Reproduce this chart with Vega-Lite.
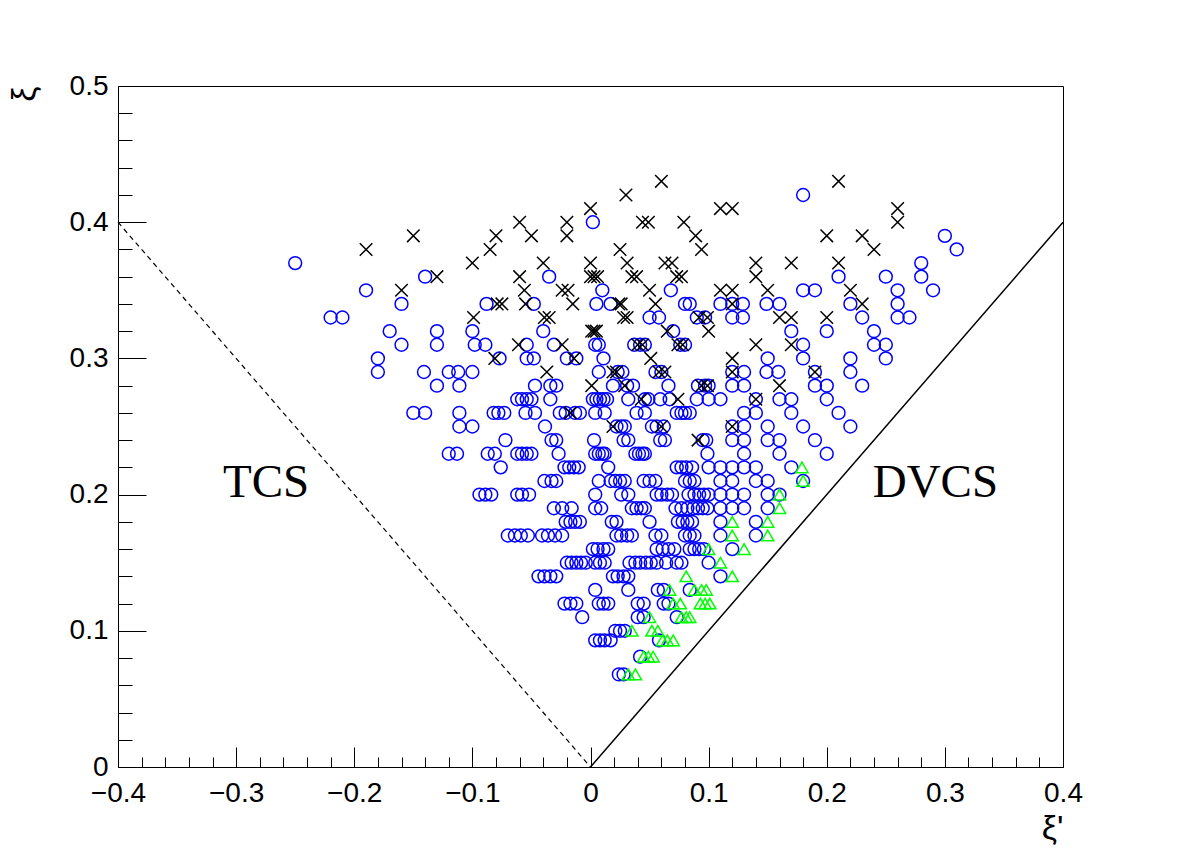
{
  "$schema": "https://vega.github.io/schema/vega-lite/v6.json",
  "width": 945,
  "height": 681,
  "autosize": {"type": "none"},
  "padding": {"left": 118, "top": 86, "right": 119, "bottom": 86},
  "background": "white",
  "config": {"view": {"stroke": "black", "strokeWidth": 1}, "font": "Liberation Sans"},
  "datasets": {
    "pts": [
      {"x":0.18,"y":0.42,"s":"c"},
      {"x":0.002,"y":0.40,"s":"c"},
      {"x":0.30,"y":0.39,"s":"c"},
      {"x":0.31,"y":0.38,"s":"c"},
      {"x":-0.25,"y":0.37,"s":"c"},{"x":0.28,"y":0.37,"s":"c"},
      {"x":-0.14,"y":0.36,"s":"c"},{"x":-0.035,"y":0.36,"s":"c"},{"x":0.21,"y":0.36,"s":"c"},{"x":0.25,"y":0.36,"s":"c"},{"x":0.28,"y":0.36,"s":"c"},
      {"x":-0.19,"y":0.35,"s":"c"},{"x":0.01,"y":0.35,"s":"c"},{"x":0.068,"y":0.35,"s":"c"},{"x":0.18,"y":0.35,"s":"c"},{"x":0.19,"y":0.35,"s":"c"},{"x":0.26,"y":0.35,"s":"c"},{"x":0.29,"y":0.35,"s":"c"},
      {"x":-0.16,"y":0.34,"s":"c"},{"x":-0.088,"y":0.34,"s":"c"},{"x":-0.048,"y":0.34,"s":"c"},{"x":0.005,"y":0.34,"s":"c"},{"x":0.017,"y":0.34,"s":"c"},{"x":0.08,"y":0.34,"s":"c"},{"x":0.084,"y":0.34,"s":"c"},{"x":0.11,"y":0.34,"s":"c"},{"x":0.12,"y":0.34,"s":"c"},{"x":0.129,"y":0.34,"s":"c"},{"x":0.149,"y":0.34,"s":"c"},{"x":0.16,"y":0.34,"s":"c"},{"x":0.22,"y":0.34,"s":"c"},{"x":0.26,"y":0.34,"s":"c"},
      {"x":-0.22,"y":0.33,"s":"c"},{"x":-0.21,"y":0.33,"s":"c"},{"x":0.05,"y":0.33,"s":"c"},{"x":0.058,"y":0.33,"s":"c"},{"x":0.09,"y":0.33,"s":"c"},{"x":0.097,"y":0.33,"s":"c"},{"x":0.12,"y":0.33,"s":"c"},{"x":0.129,"y":0.33,"s":"c"},{"x":0.23,"y":0.33,"s":"c"},{"x":0.26,"y":0.33,"s":"c"},{"x":0.27,"y":0.33,"s":"c"},
      {"x":-0.17,"y":0.32,"s":"c"},{"x":-0.13,"y":0.32,"s":"c"},{"x":-0.10,"y":0.32,"s":"c"},{"x":-0.04,"y":0.32,"s":"c"},{"x":0.07,"y":0.32,"s":"c"},{"x":0.17,"y":0.32,"s":"c"},{"x":0.20,"y":0.32,"s":"c"},{"x":0.24,"y":0.32,"s":"c"},
      {"x":-0.16,"y":0.31,"s":"c"},{"x":-0.13,"y":0.31,"s":"c"},{"x":-0.098,"y":0.31,"s":"c"},{"x":-0.089,"y":0.31,"s":"c"},{"x":-0.054,"y":0.31,"s":"c"},{"x":-0.031,"y":0.31,"s":"c"},{"x":0.004,"y":0.31,"s":"c"},{"x":0.007,"y":0.31,"s":"c"},{"x":0.037,"y":0.31,"s":"c"},{"x":0.042,"y":0.31,"s":"c"},{"x":0.046,"y":0.31,"s":"c"},{"x":0.076,"y":0.31,"s":"c"},{"x":0.08,"y":0.31,"s":"c"},{"x":0.18,"y":0.31,"s":"c"},{"x":0.24,"y":0.31,"s":"c"},{"x":0.25,"y":0.31,"s":"c"},
      {"x":-0.18,"y":0.30,"s":"c"},{"x":-0.077,"y":0.30,"s":"c"},{"x":-0.054,"y":0.30,"s":"c"},{"x":-0.048,"y":0.30,"s":"c"},{"x":-0.02,"y":0.30,"s":"c"},{"x":-0.012,"y":0.30,"s":"c"},{"x":0.011,"y":0.30,"s":"c"},{"x":0.15,"y":0.30,"s":"c"},{"x":0.18,"y":0.30,"s":"c"},{"x":0.22,"y":0.30,"s":"c"},{"x":0.25,"y":0.30,"s":"c"},
      {"x":-0.18,"y":0.29,"s":"c"},{"x":-0.141,"y":0.29,"s":"c"},{"x":-0.12,"y":0.29,"s":"c"},{"x":-0.112,"y":0.29,"s":"c"},{"x":-0.10,"y":0.29,"s":"c"},{"x":0.007,"y":0.29,"s":"c"},{"x":0.023,"y":0.29,"s":"c"},{"x":0.027,"y":0.29,"s":"c"},{"x":0.055,"y":0.29,"s":"c"},{"x":0.06,"y":0.29,"s":"c"},{"x":0.12,"y":0.29,"s":"c"},{"x":0.13,"y":0.29,"s":"c"},{"x":0.149,"y":0.29,"s":"c"},{"x":0.159,"y":0.29,"s":"c"},{"x":0.19,"y":0.29,"s":"c"},{"x":0.22,"y":0.29,"s":"c"},
      {"x":-0.13,"y":0.28,"s":"c"},{"x":-0.111,"y":0.28,"s":"c"},{"x":-0.047,"y":0.28,"s":"c"},{"x":-0.034,"y":0.28,"s":"c"},{"x":-0.029,"y":0.28,"s":"c"},{"x":0.019,"y":0.28,"s":"c"},{"x":0.031,"y":0.28,"s":"c"},{"x":0.036,"y":0.28,"s":"c"},{"x":0.066,"y":0.28,"s":"c"},{"x":0.091,"y":0.28,"s":"c"},{"x":0.097,"y":0.28,"s":"c"},{"x":0.10,"y":0.28,"s":"c"},{"x":0.12,"y":0.28,"s":"c"},{"x":0.13,"y":0.28,"s":"c"},{"x":0.19,"y":0.28,"s":"c"},{"x":0.20,"y":0.28,"s":"c"},{"x":0.23,"y":0.28,"s":"c"},
      {"x":-0.062,"y":0.27,"s":"c"},{"x":-0.058,"y":0.27,"s":"c"},{"x":-0.054,"y":0.27,"s":"c"},{"x":-0.05,"y":0.27,"s":"c"},{"x":-0.034,"y":0.27,"s":"c"},{"x":0.002,"y":0.27,"s":"c"},{"x":0.005,"y":0.27,"s":"c"},{"x":0.008,"y":0.27,"s":"c"},{"x":0.011,"y":0.27,"s":"c"},{"x":0.014,"y":0.27,"s":"c"},{"x":0.032,"y":0.27,"s":"c"},{"x":0.046,"y":0.27,"s":"c"},{"x":0.049,"y":0.27,"s":"c"},{"x":0.059,"y":0.27,"s":"c"},{"x":0.067,"y":0.27,"s":"c"},{"x":0.09,"y":0.27,"s":"c"},{"x":0.10,"y":0.27,"s":"c"},{"x":0.11,"y":0.27,"s":"c"},{"x":0.14,"y":0.27,"s":"c"},{"x":0.16,"y":0.27,"s":"c"},{"x":0.17,"y":0.27,"s":"c"},{"x":0.20,"y":0.27,"s":"c"},
      {"x":-0.15,"y":0.26,"s":"c"},{"x":-0.14,"y":0.26,"s":"c"},{"x":-0.111,"y":0.26,"s":"c"},{"x":-0.082,"y":0.26,"s":"c"},{"x":-0.078,"y":0.26,"s":"c"},{"x":-0.073,"y":0.26,"s":"c"},{"x":-0.055,"y":0.26,"s":"c"},{"x":-0.047,"y":0.26,"s":"c"},{"x":-0.026,"y":0.26,"s":"c"},{"x":-0.021,"y":0.26,"s":"c"},{"x":-0.013,"y":0.26,"s":"c"},{"x":-0.009,"y":0.26,"s":"c"},{"x":0.004,"y":0.26,"s":"c"},{"x":0.012,"y":0.26,"s":"c"},{"x":0.039,"y":0.26,"s":"c"},{"x":0.046,"y":0.26,"s":"c"},{"x":0.073,"y":0.26,"s":"c"},{"x":0.077,"y":0.26,"s":"c"},{"x":0.08,"y":0.26,"s":"c"},{"x":0.084,"y":0.26,"s":"c"},{"x":0.13,"y":0.26,"s":"c"},{"x":0.14,"y":0.26,"s":"c"},{"x":0.17,"y":0.26,"s":"c"},{"x":0.21,"y":0.26,"s":"c"},
      {"x":-0.111,"y":0.25,"s":"c"},{"x":-0.10,"y":0.25,"s":"c"},{"x":-0.0385,"y":0.25,"s":"c"},{"x":0.022,"y":0.25,"s":"c"},{"x":0.026,"y":0.25,"s":"c"},{"x":0.029,"y":0.25,"s":"c"},{"x":0.052,"y":0.25,"s":"c"},{"x":0.056,"y":0.25,"s":"c"},{"x":0.062,"y":0.25,"s":"c"},{"x":0.12,"y":0.25,"s":"c"},{"x":0.13,"y":0.25,"s":"c"},{"x":0.15,"y":0.25,"s":"c"},{"x":0.18,"y":0.25,"s":"c"},{"x":0.22,"y":0.25,"s":"c"},
      {"x":-0.072,"y":0.24,"s":"c"},{"x":-0.033,"y":0.24,"s":"c"},{"x":-0.029,"y":0.24,"s":"c"},{"x":0.003,"y":0.24,"s":"c"},{"x":0.028,"y":0.24,"s":"c"},{"x":0.032,"y":0.24,"s":"c"},{"x":0.059,"y":0.24,"s":"c"},{"x":0.063,"y":0.24,"s":"c"},{"x":0.095,"y":0.24,"s":"c"},{"x":0.098,"y":0.24,"s":"c"},{"x":0.12,"y":0.24,"s":"c"},{"x":0.13,"y":0.24,"s":"c"},{"x":0.15,"y":0.24,"s":"c"},{"x":0.16,"y":0.24,"s":"c"},{"x":0.19,"y":0.24,"s":"c"},
      {"x":-0.12,"y":0.23,"s":"c"},{"x":-0.113,"y":0.23,"s":"c"},{"x":-0.087,"y":0.23,"s":"c"},{"x":-0.081,"y":0.23,"s":"c"},{"x":-0.062,"y":0.23,"s":"c"},{"x":-0.058,"y":0.23,"s":"c"},{"x":-0.054,"y":0.23,"s":"c"},{"x":-0.05,"y":0.23,"s":"c"},{"x":-0.027,"y":0.23,"s":"c"},{"x":0.004,"y":0.23,"s":"c"},{"x":0.007,"y":0.23,"s":"c"},{"x":0.01,"y":0.23,"s":"c"},{"x":0.012,"y":0.23,"s":"c"},{"x":0.038,"y":0.23,"s":"c"},{"x":0.041,"y":0.23,"s":"c"},{"x":0.044,"y":0.23,"s":"c"},{"x":0.046,"y":0.23,"s":"c"},{"x":0.099,"y":0.23,"s":"c"},{"x":0.13,"y":0.23,"s":"c"},{"x":0.16,"y":0.23,"s":"c"},{"x":0.20,"y":0.23,"s":"c"},
      {"x":-0.076,"y":0.22,"s":"c"},{"x":-0.022,"y":0.22,"s":"c"},{"x":-0.018,"y":0.22,"s":"c"},{"x":-0.014,"y":0.22,"s":"c"},{"x":-0.01,"y":0.22,"s":"c"},{"x":0.015,"y":0.22,"s":"c"},{"x":0.073,"y":0.22,"s":"c"},{"x":0.077,"y":0.22,"s":"c"},{"x":0.081,"y":0.22,"s":"c"},{"x":0.086,"y":0.22,"s":"c"},{"x":0.10,"y":0.22,"s":"c"},{"x":0.11,"y":0.22,"s":"c"},{"x":0.12,"y":0.22,"s":"c"},{"x":0.13,"y":0.22,"s":"c"},{"x":0.14,"y":0.22,"s":"c"},{"x":0.17,"y":0.22,"s":"c"},
      {"x":-0.039,"y":0.21,"s":"c"},{"x":-0.033,"y":0.21,"s":"c"},{"x":-0.029,"y":0.21,"s":"c"},{"x":0.007,"y":0.21,"s":"c"},{"x":0.017,"y":0.21,"s":"c"},{"x":0.021,"y":0.21,"s":"c"},{"x":0.025,"y":0.21,"s":"c"},{"x":0.029,"y":0.21,"s":"c"},{"x":0.045,"y":0.21,"s":"c"},{"x":0.05,"y":0.21,"s":"c"},{"x":0.055,"y":0.21,"s":"c"},{"x":0.08,"y":0.21,"s":"c"},{"x":0.084,"y":0.21,"s":"c"},{"x":0.088,"y":0.21,"s":"c"},{"x":0.11,"y":0.21,"s":"c"},{"x":0.12,"y":0.21,"s":"c"},{"x":0.14,"y":0.21,"s":"c"},{"x":0.15,"y":0.21,"s":"c"},{"x":0.18,"y":0.21,"s":"c"},
      {"x":-0.094,"y":0.20,"s":"c"},{"x":-0.089,"y":0.20,"s":"c"},{"x":-0.084,"y":0.20,"s":"c"},{"x":-0.062,"y":0.20,"s":"c"},{"x":-0.058,"y":0.20,"s":"c"},{"x":-0.052,"y":0.20,"s":"c"},{"x":0.004,"y":0.20,"s":"c"},{"x":0.026,"y":0.20,"s":"c"},{"x":0.032,"y":0.20,"s":"c"},{"x":0.056,"y":0.20,"s":"c"},{"x":0.06,"y":0.20,"s":"c"},{"x":0.065,"y":0.20,"s":"c"},{"x":0.069,"y":0.20,"s":"c"},{"x":0.083,"y":0.20,"s":"c"},{"x":0.088,"y":0.20,"s":"c"},{"x":0.092,"y":0.20,"s":"c"},{"x":0.096,"y":0.20,"s":"c"},{"x":0.10,"y":0.20,"s":"c"},{"x":0.11,"y":0.20,"s":"c"},{"x":0.12,"y":0.20,"s":"c"},{"x":0.13,"y":0.20,"s":"c"},{"x":0.15,"y":0.20,"s":"c"},{"x":0.16,"y":0.20,"s":"c"},
      {"x":-0.031,"y":0.19,"s":"c"},{"x":-0.024,"y":0.19,"s":"c"},{"x":-0.016,"y":0.19,"s":"c"},{"x":0.004,"y":0.19,"s":"c"},{"x":0.009,"y":0.19,"s":"c"},{"x":0.035,"y":0.19,"s":"c"},{"x":0.039,"y":0.19,"s":"c"},{"x":0.043,"y":0.19,"s":"c"},{"x":0.046,"y":0.19,"s":"c"},{"x":0.072,"y":0.19,"s":"c"},{"x":0.077,"y":0.19,"s":"c"},{"x":0.082,"y":0.19,"s":"c"},{"x":0.087,"y":0.19,"s":"c"},{"x":0.091,"y":0.19,"s":"c"},{"x":0.095,"y":0.19,"s":"c"},{"x":0.099,"y":0.19,"s":"c"},{"x":0.11,"y":0.19,"s":"c"},{"x":0.12,"y":0.19,"s":"c"},{"x":0.13,"y":0.19,"s":"c"},{"x":0.15,"y":0.19,"s":"c"},
      {"x":-0.021,"y":0.18,"s":"c"},{"x":-0.017,"y":0.18,"s":"c"},{"x":-0.013,"y":0.18,"s":"c"},{"x":-0.009,"y":0.18,"s":"c"},{"x":0.018,"y":0.18,"s":"c"},{"x":0.022,"y":0.18,"s":"c"},{"x":0.05,"y":0.18,"s":"c"},{"x":0.074,"y":0.18,"s":"c"},{"x":0.078,"y":0.18,"s":"c"},{"x":0.082,"y":0.18,"s":"c"},{"x":0.086,"y":0.18,"s":"c"},{"x":0.11,"y":0.18,"s":"c"},{"x":0.14,"y":0.18,"s":"c"},
      {"x":-0.07,"y":0.17,"s":"c"},{"x":-0.064,"y":0.17,"s":"c"},{"x":-0.059,"y":0.17,"s":"c"},{"x":-0.053,"y":0.17,"s":"c"},{"x":-0.041,"y":0.17,"s":"c"},{"x":-0.036,"y":0.17,"s":"c"},{"x":-0.03,"y":0.17,"s":"c"},{"x":-0.024,"y":0.17,"s":"c"},{"x":0.022,"y":0.17,"s":"c"},{"x":0.026,"y":0.17,"s":"c"},{"x":0.031,"y":0.17,"s":"c"},{"x":0.035,"y":0.17,"s":"c"},{"x":0.055,"y":0.17,"s":"c"},{"x":0.06,"y":0.17,"s":"c"},{"x":0.08,"y":0.17,"s":"c"},{"x":0.084,"y":0.17,"s":"c"},{"x":0.088,"y":0.17,"s":"c"},{"x":0.11,"y":0.17,"s":"c"},{"x":0.14,"y":0.17,"s":"c"},
      {"x":0.002,"y":0.16,"s":"c"},{"x":0.006,"y":0.16,"s":"c"},{"x":0.011,"y":0.16,"s":"c"},{"x":0.015,"y":0.16,"s":"c"},{"x":0.056,"y":0.16,"s":"c"},{"x":0.061,"y":0.16,"s":"c"},{"x":0.066,"y":0.16,"s":"c"},{"x":0.071,"y":0.16,"s":"c"},{"x":0.084,"y":0.16,"s":"c"},{"x":0.088,"y":0.16,"s":"c"},{"x":0.092,"y":0.16,"s":"c"},{"x":0.096,"y":0.16,"s":"c"},{"x":0.12,"y":0.16,"s":"c"},
      {"x":-0.02,"y":0.15,"s":"c"},{"x":-0.016,"y":0.15,"s":"c"},{"x":-0.012,"y":0.15,"s":"c"},{"x":-0.008,"y":0.15,"s":"c"},{"x":-0.004,"y":0.15,"s":"c"},{"x":0.004,"y":0.15,"s":"c"},{"x":0.008,"y":0.15,"s":"c"},{"x":0.012,"y":0.15,"s":"c"},{"x":0.033,"y":0.15,"s":"c"},{"x":0.038,"y":0.15,"s":"c"},{"x":0.042,"y":0.15,"s":"c"},{"x":0.047,"y":0.15,"s":"c"},{"x":0.051,"y":0.15,"s":"c"},{"x":0.056,"y":0.15,"s":"c"},{"x":0.064,"y":0.15,"s":"c"},{"x":0.073,"y":0.15,"s":"c"},{"x":0.077,"y":0.15,"s":"c"},{"x":0.10,"y":0.15,"s":"c"},
      {"x":-0.044,"y":0.14,"s":"c"},{"x":-0.039,"y":0.14,"s":"c"},{"x":-0.034,"y":0.14,"s":"c"},{"x":-0.029,"y":0.14,"s":"c"},{"x":0.019,"y":0.14,"s":"c"},{"x":0.023,"y":0.14,"s":"c"},{"x":0.028,"y":0.14,"s":"c"},{"x":0.032,"y":0.14,"s":"c"},{"x":0.11,"y":0.14,"s":"c"},
      {"x":0.004,"y":0.13,"s":"c"},{"x":0.032,"y":0.13,"s":"c"},{"x":0.057,"y":0.13,"s":"c"},{"x":0.062,"y":0.13,"s":"c"},{"x":0.084,"y":0.13,"s":"c"},
      {"x":-0.022,"y":0.12,"s":"c"},{"x":-0.017,"y":0.12,"s":"c"},{"x":-0.012,"y":0.12,"s":"c"},{"x":0.007,"y":0.12,"s":"c"},{"x":0.011,"y":0.12,"s":"c"},{"x":0.015,"y":0.12,"s":"c"},{"x":0.04,"y":0.12,"s":"c"},{"x":0.045,"y":0.12,"s":"c"},{"x":0.062,"y":0.12,"s":"c"},{"x":0.066,"y":0.12,"s":"c"},
      {"x":-0.007,"y":0.11,"s":"c"},{"x":0.04,"y":0.11,"s":"c"},{"x":0.045,"y":0.11,"s":"c"},{"x":0.073,"y":0.11,"s":"c"},
      {"x":0.021,"y":0.10,"s":"c"},{"x":0.025,"y":0.10,"s":"c"},{"x":0.029,"y":0.10,"s":"c"},
      {"x":0.004,"y":0.093,"s":"c"},{"x":0.008,"y":0.093,"s":"c"},{"x":0.012,"y":0.093,"s":"c"},{"x":0.017,"y":0.093,"s":"c"},{"x":0.058,"y":0.093,"s":"c"},
      {"x":0.042,"y":0.081,"s":"c"},
      {"x":0.024,"y":0.068,"s":"c"},{"x":0.028,"y":0.068,"s":"c"},

      {"x":0.06,"y":0.43,"s":"x"},{"x":0.21,"y":0.43,"s":"x"},
      {"x":0.03,"y":0.42,"s":"x"},
      {"x":0.0,"y":0.41,"s":"x"},{"x":0.11,"y":0.41,"s":"x"},{"x":0.12,"y":0.41,"s":"x"},{"x":0.26,"y":0.41,"s":"x"},
      {"x":-0.06,"y":0.40,"s":"x"},{"x":-0.02,"y":0.40,"s":"x"},{"x":0.044,"y":0.40,"s":"x"},{"x":0.049,"y":0.40,"s":"x"},{"x":0.079,"y":0.40,"s":"x"},{"x":0.26,"y":0.40,"s":"x"},
      {"x":-0.15,"y":0.39,"s":"x"},{"x":-0.08,"y":0.39,"s":"x"},{"x":-0.05,"y":0.39,"s":"x"},{"x":-0.02,"y":0.39,"s":"x"},{"x":0.089,"y":0.39,"s":"x"},{"x":0.20,"y":0.39,"s":"x"},{"x":0.23,"y":0.39,"s":"x"},
      {"x":-0.19,"y":0.38,"s":"x"},{"x":-0.085,"y":0.38,"s":"x"},{"x":0.025,"y":0.38,"s":"x"},{"x":0.094,"y":0.38,"s":"x"},{"x":0.24,"y":0.38,"s":"x"},
      {"x":-0.10,"y":0.37,"s":"x"},{"x":-0.04,"y":0.37,"s":"x"},{"x":0.0,"y":0.37,"s":"x"},{"x":0.031,"y":0.37,"s":"x"},{"x":0.063,"y":0.37,"s":"x"},{"x":0.069,"y":0.37,"s":"x"},{"x":0.14,"y":0.37,"s":"x"},{"x":0.17,"y":0.37,"s":"x"},{"x":0.21,"y":0.37,"s":"x"},
      {"x":-0.13,"y":0.36,"s":"x"},{"x":-0.06,"y":0.36,"s":"x"},{"x":0.0,"y":0.36,"s":"x"},{"x":0.003,"y":0.36,"s":"x"},{"x":0.006,"y":0.36,"s":"x"},{"x":0.035,"y":0.36,"s":"x"},{"x":0.039,"y":0.36,"s":"x"},{"x":0.073,"y":0.36,"s":"x"},{"x":0.077,"y":0.36,"s":"x"},{"x":0.14,"y":0.36,"s":"x"},
      {"x":-0.16,"y":0.35,"s":"x"},{"x":-0.056,"y":0.35,"s":"x"},{"x":-0.024,"y":0.35,"s":"x"},{"x":-0.019,"y":0.35,"s":"x"},{"x":0.05,"y":0.35,"s":"x"},{"x":0.11,"y":0.35,"s":"x"},{"x":0.12,"y":0.35,"s":"x"},{"x":0.15,"y":0.35,"s":"x"},{"x":0.22,"y":0.35,"s":"x"},
      {"x":-0.079,"y":0.34,"s":"x"},{"x":-0.075,"y":0.34,"s":"x"},{"x":-0.055,"y":0.34,"s":"x"},{"x":-0.015,"y":0.34,"s":"x"},{"x":0.024,"y":0.34,"s":"x"},{"x":0.026,"y":0.34,"s":"x"},{"x":0.055,"y":0.34,"s":"x"},{"x":0.12,"y":0.34,"s":"x"},{"x":0.23,"y":0.34,"s":"x"},
      {"x":-0.099,"y":0.33,"s":"x"},{"x":-0.039,"y":0.33,"s":"x"},{"x":-0.035,"y":0.33,"s":"x"},{"x":0.028,"y":0.33,"s":"x"},{"x":0.031,"y":0.33,"s":"x"},{"x":0.092,"y":0.33,"s":"x"},{"x":0.099,"y":0.33,"s":"x"},{"x":0.16,"y":0.33,"s":"x"},{"x":0.17,"y":0.33,"s":"x"},{"x":0.20,"y":0.33,"s":"x"},
      {"x":0.001,"y":0.32,"s":"x"},{"x":0.003,"y":0.32,"s":"x"},{"x":0.005,"y":0.32,"s":"x"},{"x":0.065,"y":0.32,"s":"x"},{"x":0.10,"y":0.32,"s":"x"},
      {"x":-0.061,"y":0.31,"s":"x"},{"x":-0.024,"y":0.31,"s":"x"},{"x":0.04,"y":0.31,"s":"x"},{"x":0.044,"y":0.31,"s":"x"},{"x":0.074,"y":0.31,"s":"x"},{"x":0.078,"y":0.31,"s":"x"},{"x":0.14,"y":0.31,"s":"x"},{"x":0.17,"y":0.31,"s":"x"},
      {"x":-0.081,"y":0.30,"s":"x"},{"x":-0.014,"y":0.30,"s":"x"},{"x":0.051,"y":0.30,"s":"x"},{"x":0.12,"y":0.30,"s":"x"},
      {"x":-0.037,"y":0.29,"s":"x"},{"x":0.019,"y":0.29,"s":"x"},{"x":0.022,"y":0.29,"s":"x"},{"x":0.058,"y":0.29,"s":"x"},{"x":0.063,"y":0.29,"s":"x"},{"x":0.12,"y":0.29,"s":"x"},{"x":0.19,"y":0.29,"s":"x"},
      {"x":0.001,"y":0.28,"s":"x"},{"x":0.029,"y":0.28,"s":"x"},{"x":0.094,"y":0.28,"s":"x"},{"x":0.099,"y":0.28,"s":"x"},{"x":0.16,"y":0.28,"s":"x"},
      {"x":0.043,"y":0.27,"s":"x"},{"x":0.074,"y":0.27,"s":"x"},{"x":0.14,"y":0.27,"s":"x"},
      {"x":-0.017,"y":0.26,"s":"x"},
      {"x":0.019,"y":0.25,"s":"x"},{"x":0.06,"y":0.25,"s":"x"},{"x":0.12,"y":0.25,"s":"x"},
      {"x":0.091,"y":0.24,"s":"x"},

      {"x":0.179,"y":0.22,"s":"t"},
      {"x":0.18,"y":0.21,"s":"t"},
      {"x":0.16,"y":0.20,"s":"t"},
      {"x":0.16,"y":0.19,"s":"t"},
      {"x":0.12,"y":0.18,"s":"t"},{"x":0.15,"y":0.18,"s":"t"},
      {"x":0.12,"y":0.17,"s":"t"},{"x":0.15,"y":0.17,"s":"t"},
      {"x":0.10,"y":0.16,"s":"t"},{"x":0.13,"y":0.16,"s":"t"},
      {"x":0.11,"y":0.15,"s":"t"},
      {"x":0.081,"y":0.14,"s":"t"},{"x":0.12,"y":0.14,"s":"t"},
      {"x":0.067,"y":0.13,"s":"t"},{"x":0.088,"y":0.13,"s":"t"},{"x":0.094,"y":0.13,"s":"t"},{"x":0.098,"y":0.13,"s":"t"},
      {"x":0.07,"y":0.12,"s":"t"},{"x":0.076,"y":0.12,"s":"t"},{"x":0.093,"y":0.12,"s":"t"},{"x":0.097,"y":0.12,"s":"t"},{"x":0.101,"y":0.12,"s":"t"},
      {"x":0.05,"y":0.11,"s":"t"},{"x":0.077,"y":0.11,"s":"t"},{"x":0.081,"y":0.11,"s":"t"},{"x":0.084,"y":0.11,"s":"t"},
      {"x":0.035,"y":0.10,"s":"t"},{"x":0.052,"y":0.10,"s":"t"},{"x":0.057,"y":0.10,"s":"t"},
      {"x":0.061,"y":0.093,"s":"t"},{"x":0.065,"y":0.093,"s":"t"},{"x":0.07,"y":0.093,"s":"t"},
      {"x":0.045,"y":0.081,"s":"t"},{"x":0.049,"y":0.081,"s":"t"},{"x":0.053,"y":0.081,"s":"t"},
      {"x":0.032,"y":0.068,"s":"t"},{"x":0.038,"y":0.068,"s":"t"}
    ],
    "tcsEdge": [{"x": -0.4, "y": 0.4}, {"x": 0, "y": 0}],
    "dvcsEdge": [{"x": 0, "y": 0}, {"x": 0.4, "y": 0.4}],
    "regions": [{"x": -0.2747, "y": 0.198, "t": "TCS"}, {"x": 0.292, "y": 0.198, "t": "DVCS"}]
  },
  "encoding": {
    "x": {
      "field": "x", "type": "quantitative",
      "scale": {"domain": [-0.4, 0.4], "nice": false, "zero": false},
      "axis": {
        "values": [-0.4,-0.38,-0.36,-0.34,-0.32,-0.3,-0.28,-0.26,-0.24,-0.22,-0.2,-0.18,-0.16,-0.14,-0.12,-0.1,-0.08,-0.06,-0.04,-0.02,0,0.02,0.04,0.06,0.08,0.1,0.12,0.14,0.16,0.18,0.2,0.22,0.24,0.26,0.28,0.3,0.32,0.34,0.36,0.38,0.4],
        "labelExpr": "abs(datum.value*10 - round(datum.value*10)) < 1e-6 ? (abs(datum.value) < 1e-9 ? '0' : replace(format(datum.value, '.1f'), '-', '\u2212')) : ''",
        "tickSize": {"condition": {"test": "abs(datum.value*10 - round(datum.value*10)) < 1e-6", "value": -20}, "value": -10},
        "tickColor": "black", "tickWidth": 1,
        "domainColor": "black", "domainWidth": 1,
        "grid": false,
        "labelFont": "Liberation Sans", "labelFontSize": 28, "labelColor": "black",
        "labelPadding": 32, "labelFlush": false, "labelOverlap": false,
        "title": "\u03be'", "titleFont": "Liberation Sans", "titleFontSize": 34, "titleFontWeight": "normal", "titleColor": "black",
        "titleAlign": "right", "titleAnchor": "end", "titleX": 945, "titleY": 71, "titleBaseline": "alphabetic"
      }
    },
    "y": {
      "field": "y", "type": "quantitative",
      "scale": {"domain": [0, 0.5], "nice": false, "zero": false},
      "axis": {
        "values": [0,0.02,0.04,0.06,0.08,0.1,0.12,0.14,0.16,0.18,0.2,0.22,0.24,0.26,0.28,0.3,0.32,0.34,0.36,0.38,0.4,0.42,0.44,0.46,0.48,0.5],
        "labelExpr": "abs(datum.value*10 - round(datum.value*10)) < 1e-6 ? (abs(datum.value) < 1e-9 ? '0' : format(datum.value, '.1f')) : ''",
        "tickSize": {"condition": {"test": "abs(datum.value*10 - round(datum.value*10)) < 1e-6", "value": -28}, "value": -14},
        "tickColor": "black", "tickWidth": 1,
        "domainColor": "black", "domainWidth": 1,
        "grid": false,
        "labelFont": "Liberation Sans", "labelFontSize": 28, "labelColor": "black",
        "labelPadding": 38, "labelFlush": false, "labelOverlap": false,
        "title": "\u03be", "titleFont": "Liberation Sans", "titleFontSize": 34, "titleFontWeight": "normal", "titleColor": "black",
        "titleAngle": 270, "titleAlign": "right", "titleAnchor": "end", "titleX": -84, "titleY": 0, "titleBaseline": "alphabetic"
      }
    }
  },
  "layer": [
    {
      "data": {"name": "tcsEdge"},
      "mark": {"type": "line", "color": "black", "strokeWidth": 1.2, "strokeDash": [5, 4]}
    },
    {
      "data": {"name": "dvcsEdge"},
      "mark": {"type": "line", "color": "black", "strokeWidth": 1.5}
    },
    {
      "data": {"name": "regions"},
      "mark": {"type": "text", "font": "Liberation Serif", "fontSize": 47, "align": "center", "baseline": "alphabetic", "color": "black"},
      "encoding": {"text": {"field": "t"}}
    },
    {
      "data": {"name": "pts"},
      "mark": {"type": "point", "filled": false, "strokeWidth": 1.5, "opacity": 1},
      "encoding": {
        "shape": {"field": "s", "type": "nominal", "legend": null,
          "scale": {"domain": ["c", "x", "t"], "range": ["circle", "M-1,-1L1,1M1,-1L-1,1", "triangle-up"]}},
        "stroke": {"field": "s", "type": "nominal", "legend": null,
          "scale": {"domain": ["c", "x", "t"], "range": ["#0000ff", "#000000", "#00ff00"]}},
        "size": {"field": "s", "type": "nominal", "legend": null,
          "scale": {"domain": ["c", "x", "t"], "range": [165, 150, 260]}}
      }
    }
  ]
}
